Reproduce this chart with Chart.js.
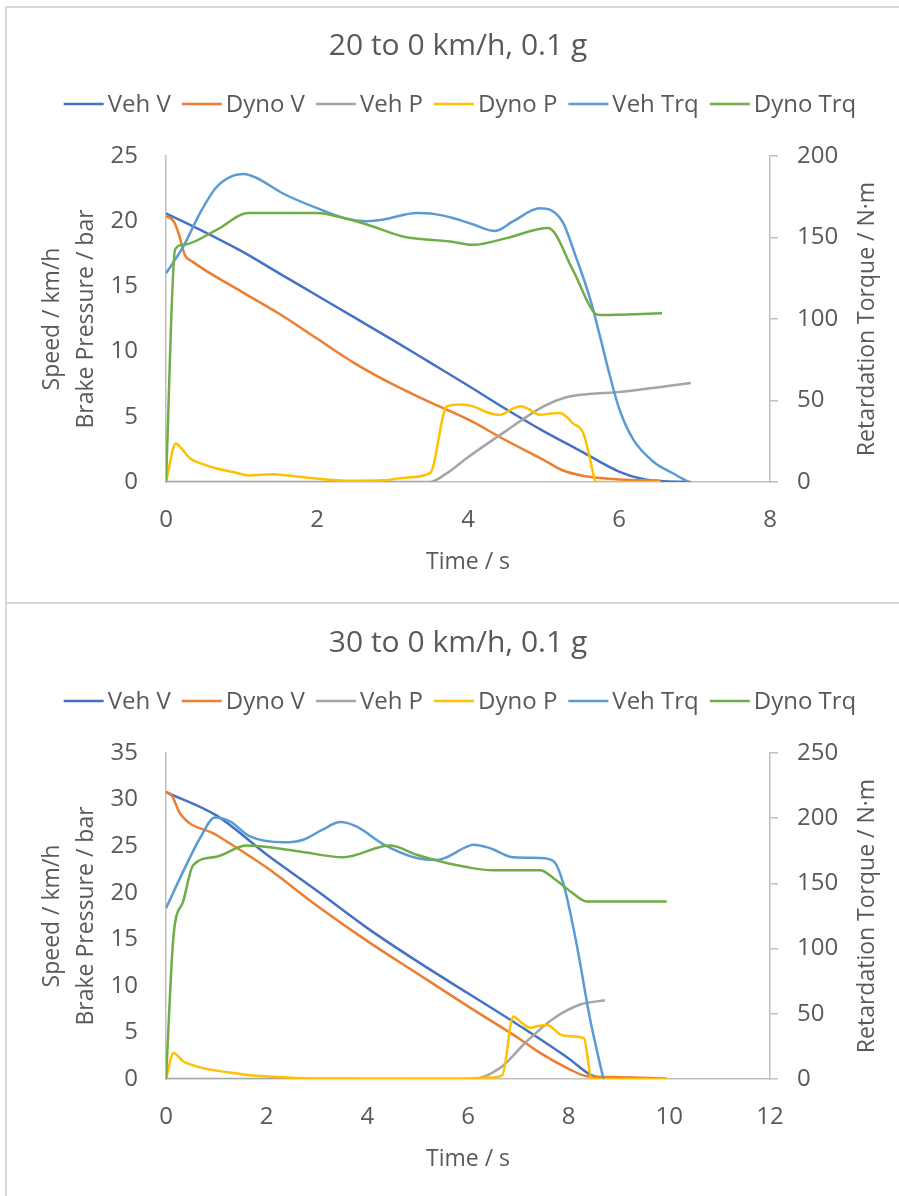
<!DOCTYPE html>
<html lang="en">
<head>
    <meta charset="UTF-8">
    <title>Braking tests, 0.1 g</title>
    <script src="https://cdn.jsdelivr.net/npm/chart.js"></script>
    <style>
        body {
            margin: 0;
            background: #ffffff;
        }
        #page {
            position: relative;
            width: 899px;
            height: 1196px;
            overflow: hidden;
        }
        .rule {
            position: absolute;
            background: #d9d9d9;
        }
        canvas {
            position: absolute;
            left: 0;
        }
    </style>
</head>
<body>
<div id="page">
    <div class="rule" style="left:5px; top:6px; width:2px; height:1190px;"></div>
    <div class="rule" style="left:5px; top:6px; width:894px; height:2px;"></div>
    <div class="rule" style="left:5px; top:602px; width:894px; height:2px;"></div>
    <canvas id="chart20" width="899" height="597" style="top:0px;"></canvas>
    <canvas id="chart30" width="899" height="597" style="top:597px;"></canvas>
</div>

<script>
    // series labels and colours (legend order)
    const seriesNames = ['Veh V', 'Dyno V', 'Veh P', 'Dyno P', 'Veh Trq', 'Dyno Trq'];
    const seriesColors = ['#4472c4', '#ed7d31', '#a5a5a5', '#ffc000', '#5b9bd5', '#70ad47'];

    // ---- 20 to 0 km/h ----
    const t20VehV = [0, 0.5, 1.0, 1.5, 2.0, 2.5, 3.0, 3.5, 4.0, 4.5, 5.0, 5.5, 6.0, 6.3, 6.6, 6.95];
    const v20VehV = [20.6, 19.2, 17.7, 16.0, 14.3, 12.6, 10.9, 9.15, 7.4, 5.6, 3.9, 2.35, 0.8, 0.25, 0.05, 0];

    const t20DynoV = [0, 0.1, 0.17, 0.25, 0.35, 1.0, 1.5, 2.0, 2.5, 3.0, 3.5, 4.0, 4.5, 5.0, 5.25, 5.5, 5.75, 6.0, 6.55];
    const v20DynoV = [20.4, 20.0, 19.0, 17.4, 16.9, 14.6, 12.9, 11.0, 9.1, 7.5, 6.1, 4.8, 3.2, 1.7, 0.9, 0.5, 0.3, 0.2, 0.1];

    const t20VehP = [0, 3.5, 3.7, 4.0, 4.5, 5.0, 5.3, 5.6, 6.0, 6.5, 6.95];
    const p20VehP = [0, 0, 0.6, 1.9, 3.9, 5.8, 6.5, 6.75, 6.9, 7.25, 7.6];

    const t20DynoP = [0, 0.13, 0.2, 0.32, 0.5, 0.67, 0.9, 1.1, 1.42, 1.77, 2.1, 2.5, 2.88, 3.2, 3.5, 3.72, 3.9, 4.07, 4.25, 4.42, 4.6, 4.7, 4.8, 4.95, 5.1, 5.22, 5.39, 5.53, 5.6, 5.7, 6.55];
    const p20DynoP = [0, 2.95, 2.6, 1.8, 1.35, 1.03, 0.75, 0.5, 0.6, 0.4, 0.2, 0.1, 0.13, 0.35, 0.7, 5.8, 5.95, 5.8, 5.35, 5.15, 5.65, 5.8, 5.6, 5.15, 5.25, 5.3, 4.5, 3.7, 2.2, 0, 0];

    const t20VehTrq = [0, 0.23, 0.45, 0.67, 0.89, 1.03, 1.2, 1.55, 2.0, 2.44, 2.66, 2.88, 3.32, 3.54, 3.8, 4.07, 4.36, 4.6, 4.95, 5.09, 5.26, 5.43, 5.62, 5.75, 5.88, 6.01, 6.19, 6.46, 6.72, 6.92];
    const q20VehTrq = [128, 144.5, 165, 181, 188, 189, 186.5, 177, 168, 161, 160, 161, 165, 164.5, 162, 158, 154, 160, 168, 167, 159, 138, 112, 89, 65, 44, 26, 12.3, 5.2, 0];

    const t20DynoTrq = [0, 0.12, 0.23, 0.67, 1.09, 2.0, 2.26, 2.66, 3.15, 3.76, 4.07, 4.51, 5.06, 5.39, 5.68, 5.75, 6.57];
    const q20DynoTrq = [0, 142.5, 145.5, 154.7, 165, 165, 163, 158, 150.5, 147.6, 145.5, 149.6, 155.8, 130, 103.5, 102.5, 103.5];

    // ---- 30 to 0 km/h ----
    const t30VehV = [0, 1, 2, 3, 4, 5, 6, 7, 8, 8.42, 8.69];
    const v30VehV = [30.8, 28.3, 24.1, 20.2, 16.2, 12.6, 9.2, 5.8, 2.2, 0.5, 0];

    const t30DynoV = [0, 0.11, 0.28, 1.0, 2.0, 3.0, 4.0, 5.0, 6.0, 7.0, 7.43, 8.0, 8.36, 9.0, 9.95];
    const v30DynoV = [30.8, 30.5, 28.5, 26.2, 22.7, 18.6, 14.8, 11.3, 7.8, 4.4, 2.8, 1.1, 0.3, 0.2, 0.05];

    const t30VehP = [0, 6.1, 6.64, 7.16, 7.7, 8.23, 8.72];
    const p30VehP = [0, 0, 1.2, 4.0, 6.5, 8.0, 8.45];

    const t30DynoP = [0, 0.15, 0.34, 0.68, 1.0, 1.34, 1.67, 2.33, 3.0, 5.0, 6.0, 6.4, 6.68, 6.9, 7.05, 7.24, 7.4, 7.57, 7.83, 8.0, 8.3, 8.46, 9.95];
    const p30DynoP = [0, 2.8, 1.9, 1.25, 0.9, 0.64, 0.39, 0.18, 0.05, 0.02, 0.05, 0.15, 0.4, 6.7, 6.1, 5.5, 5.7, 5.8, 4.8, 4.6, 4.4, 0, 0];

    const t30VehTrq = [0, 0.34, 0.68, 0.97, 1.27, 1.67, 2.33, 2.73, 3.1, 3.46, 3.79, 4.32, 4.98, 5.38, 5.97, 6.1, 6.44, 6.9, 7.43, 7.7, 7.9, 8.16, 8.42, 8.69];
    const q30VehTrq = [131, 159, 185, 200.5, 197.5, 186, 181.5, 183.5, 191, 197, 193.5, 180, 169.5, 168, 178, 179.7, 177, 170, 169.5, 167, 149, 103, 47, 0];

    const t30DynoTrq = [0, 0.15, 0.34, 0.54, 1.0, 1.6, 1.87, 2.66, 3.52, 4.45, 4.98, 5.44, 5.97, 6.5, 7.43, 7.7, 8.03, 8.36, 9.95];
    const q30DynoTrq = [0, 110, 136, 164, 170.5, 179, 178.5, 174.5, 170, 179, 172, 167, 162.5, 160, 160, 154, 144, 136.2, 136.2];

    const textGrey = '#595959';
    const axisGrey = '#bfbfbf';
    const fontName = 'Open Sans';

    function pts(ts, vs) {
        return ts.map((t, i) => ({ x: t, y: vs[i] }));
    }

    // title, legend and right-hand axis title drawn straight on the canvas
    const overlay = {
        id: 'overlay',
        afterDraw(chart, args, opts) {
            const ctx = chart.ctx;
            const area = chart.chartArea;
            ctx.save();
            ctx.fillStyle = textGrey;
            ctx.textBaseline = 'middle';

            ctx.font = '30px "' + fontName + '"';
            ctx.textAlign = 'center';
            ctx.fillText(opts.title, 458, 46);

            ctx.font = '24px "' + fontName + '"';
            ctx.textAlign = 'left';
            const items = chart.data.datasets.map(d => ({
                label: d.label, color: d.borderColor, w: ctx.measureText(d.label).width
            }));
            const lineW = 40, gapIn = 4, gapOut = 11;
            let total = gapOut * (items.length - 1);
            items.forEach(it => { total += lineW + gapIn + it.w; });
            let x = 460 - total / 2;
            const y = 104;
            items.forEach(it => {
                ctx.strokeStyle = it.color;
                ctx.lineWidth = 2.5;
                ctx.beginPath();
                ctx.moveTo(x, y);
                ctx.lineTo(x + lineW, y);
                ctx.stroke();
                x += lineW + gapIn;
                ctx.fillText(it.label, x, y + 1);
                x += it.w + gapOut;
            });

            ctx.font = '23px "' + fontName + '"';
            ctx.textAlign = 'center';
            ctx.translate(867, (area.top + area.bottom) / 2);
            ctx.rotate(-Math.PI / 2);
            ctx.fillText(opts.rightTitle, 0, 0);
            ctx.restore();
        }
    };

    function makeChart(id, title, series, yMax, trqMax, xMax) {
        const datasets = series.map((s, i) => ({
            label: seriesNames[i],
            data: pts(s[0], s[1]),
            yAxisID: i >= 4 ? 'y1' : 'y',
            borderColor: seriesColors[i],
            backgroundColor: seriesColors[i],
            borderWidth: 2.5,
            pointRadius: 0,
            fill: false,
            tension: 0.4,
            cubicInterpolationMode: 'monotone',
            order: 6 - i
        }));

        const tickFont = { family: fontName, size: 24 };
        const titleFont = { family: fontName, size: 23 };

        return new Chart(document.getElementById(id), {
            type: 'line',
            data: { datasets: datasets },
            plugins: [overlay],
            options: {
                responsive: false,
                animation: false,
                devicePixelRatio: 1,
                layout: { padding: { top: 156, left: 0, right: 0, bottom: 0 } },
                plugins: {
                    legend: { display: false },
                    title: { display: false },
                    tooltip: { enabled: false },
                    overlay: { title: title, rightTitle: 'Retardation Torque / N·m' }
                },
                scales: {
                    x: {
                        type: 'linear', position: 'bottom', min: 0, max: xMax,
                        ticks: { stepSize: 2, padding: 24, color: textGrey, font: tickFont },
                        grid: { display: false, drawTicks: false },
                        border: { display: true, color: axisGrey, width: 1.5 },
                        title: {
                            display: true, text: 'Time / s', color: textGrey, font: titleFont,
                            padding: { top: 0, bottom: 21 }
                        },
                        afterFit: s => { s.height = 115; }
                    },
                    y: {
                        type: 'linear', position: 'left', min: 0, max: yMax,
                        ticks: { stepSize: 5, padding: 28, color: textGrey, font: tickFont },
                        grid: { display: false, drawTicks: false },
                        border: { display: true, color: axisGrey, width: 1.5 },
                        title: {
                            display: true, text: ['Speed / km/h', 'Brake Pressure / bar'], color: textGrey,
                            font: { family: fontName, size: 23, lineHeight: 1.5 },
                            padding: { top: 35, bottom: 0 }
                        },
                        afterFit: s => { s.width = 166; }
                    },
                    y1: {
                        type: 'linear', position: 'right', min: 0, max: trqMax,
                        ticks: { stepSize: 50, padding: 19, color: textGrey, font: tickFont },
                        grid: { drawOnChartArea: false, drawTicks: true, tickLength: 8, color: axisGrey, lineWidth: 1.5 },
                        border: { display: true, color: axisGrey, width: 1.5 },
                        afterFit: s => { s.width = 129; }
                    }
                }
            }
        });
    }

    makeChart('chart20', '20 to 0 km/h, 0.1 g', [
        [t20VehV, v20VehV], [t20DynoV, v20DynoV], [t20VehP, p20VehP],
        [t20DynoP, p20DynoP], [t20VehTrq, q20VehTrq], [t20DynoTrq, q20DynoTrq]
    ], 25, 200, 8);

    makeChart('chart30', '30 to 0 km/h, 0.1 g', [
        [t30VehV, v30VehV], [t30DynoV, v30DynoV], [t30VehP, p30VehP],
        [t30DynoP, p30DynoP], [t30VehTrq, q30VehTrq], [t30DynoTrq, q30DynoTrq]
    ], 35, 250, 12);
</script>
</body>
</html>
